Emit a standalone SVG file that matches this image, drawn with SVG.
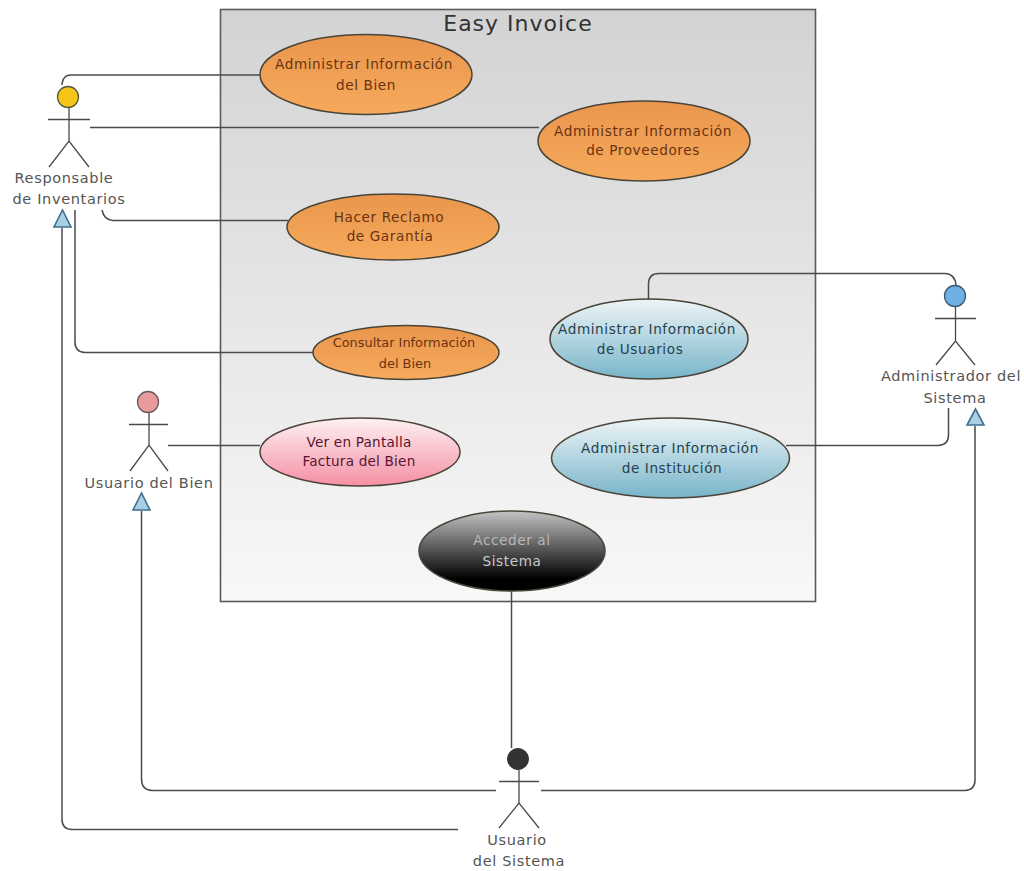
<svg xmlns="http://www.w3.org/2000/svg" width="1024" height="871" viewBox="0 0 1024 871">
<style>
text{font-family:"DejaVu Sans",Verdana,sans-serif;font-size:13.6px;text-anchor:middle;letter-spacing:.6px}
.con{fill:none;stroke:#4a4a50;stroke-width:1.5}
.st{fill:none;stroke:#4a4a4a;stroke-width:1.3}
.uc{stroke:#4a4438;stroke-width:1.5}
.or text{fill:#6a3210}
.bl text{fill:#24404e}
.pk text{fill:#5a1430}
.ak text{fill:#555;font-size:14.5px;letter-spacing:.65px}
.tri{fill:#a9cfe4;stroke:#3f6f8c;stroke-width:1.6}
</style>
<defs>
<linearGradient id="bg" x1="0" y1="0" x2="0" y2="1"><stop offset="0" stop-color="#d3d3d3"/><stop offset="1" stop-color="#f8f8f8"/></linearGradient>
<linearGradient id="o" x1="0" y1="0" x2="0" y2="1"><stop offset="0" stop-color="#e9964c"/><stop offset="1" stop-color="#f6aa5c"/></linearGradient>
<linearGradient id="b" x1="0" y1="0" x2="0" y2="1"><stop offset="0" stop-color="#eef5f7"/><stop offset="1" stop-color="#77b4c9"/></linearGradient>
<linearGradient id="p" x1="0" y1="0" x2="0" y2="1"><stop offset="0" stop-color="#fdf1f3"/><stop offset="1" stop-color="#f58fa3"/></linearGradient>
<linearGradient id="k" x1="0" y1="0" x2="0" y2="1"><stop offset="0" stop-color="#c4c4c4"/><stop offset=".85" stop-color="#000"/><stop offset="1" stop-color="#000"/></linearGradient>
</defs>
<rect width="1024" height="871" fill="#fff"/>
<g id="frame">
<rect x="220.500" y="9.500" width="595" height="592" fill="url(#bg)" stroke="#5a5a5a" stroke-width="1.600"/>
<text x="518" y="31" style="font-size:22px;letter-spacing:1px" fill="#333">Easy Invoice</text>
</g>
<g id="uc1" class="or"><ellipse class="uc" cx="366" cy="74.500" rx="106" ry="40" fill="url(#o)"/><text x="364" y="69">Administrar Información</text><text x="366" y="90">del Bien</text></g>
<g id="uc2" class="or"><ellipse class="uc" cx="644" cy="141" rx="106" ry="40" fill="url(#o)"/><text x="643" y="136">Administrar Información</text><text x="643" y="155">de Proveedores</text></g>
<g id="uc3" class="or"><ellipse class="uc" cx="393" cy="227" rx="106" ry="33" fill="url(#o)"/><text x="389" y="222">Hacer Reclamo</text><text x="390" y="241">de Garantía</text></g>
<g id="uc4" class="or"><ellipse class="uc" cx="406" cy="352.500" rx="93" ry="27" fill="url(#o)"/><text x="404" y="347" style="letter-spacing:0;font-size:12.9px">Consultar Información</text><text x="405" y="368" style="letter-spacing:0;font-size:12.9px">del Bien</text></g>
<g id="uc5" class="bl"><ellipse class="uc" cx="649" cy="339" rx="99" ry="40" fill="url(#b)"/><text x="647" y="334">Administrar Información</text><text x="640" y="354">de Usuarios</text></g>
<g id="uc6" class="bl"><ellipse class="uc" cx="670.500" cy="458" rx="119" ry="40" fill="url(#b)"/><text x="670" y="453">Administrar Información</text><text x="672" y="473">de Institución</text></g>
<g id="uc7" class="pk"><ellipse class="uc" cx="360" cy="452" rx="100" ry="34" fill="url(#p)"/><text x="359" y="447" style="letter-spacing:.2px">Ver en Pantalla</text><text x="359" y="466" style="letter-spacing:.2px">Factura del Bien</text></g>
<g id="uc8"><ellipse class="uc" cx="512" cy="551" rx="93" ry="40" fill="url(#k)"/><text x="512" y="545" fill="#b8b8b8">Acceder al</text><text x="512" y="566" fill="#c8c8c8">Sistema</text></g>
<g id="connectors">
<path class="con" d="M62 85V84Q63 75 71 75H260"/>
<path class="con" d="M90 127.500H539"/>
<path class="con" d="M102 210Q104 220 113 220.500H288"/>
<path class="con" d="M75 210V342Q75 352 85 352.500H313"/>
<path class="con" d="M168 445.500H260"/>
<path class="con" d="M648.500 300V284Q648.500 273.500 659 273.500H945Q955 274 956 285"/>
<path class="con" d="M786 445.500H938Q948.500 445 948.500 435V408"/>
<path class="con" d="M511.500 590V748"/>
<path class="con" d="M458 829.500H72Q62 829.500 62 819V228"/>
<path class="con" d="M496 790.500H152Q141.500 790 141.500 779V511"/>
<path class="con" d="M541 790.500H965Q975 790 975 780V426"/>
<polygon class="tri" points="62.500,210 54,227 71,227"/>
<polygon class="tri" points="141.500,493 133,510 150,510"/>
<polygon class="tri" points="975.500,409 967,425 984,425"/>
</g>
<g id="a1" class="ak"><circle cx="68" cy="97" r="10.500" fill="#f5c518" stroke="#5a5a40" stroke-width="1.300"/><path class="st" d="M48 119.500H90M69 108V141M49 167L69 141L89 167"/><text x="64" y="183">Responsable</text><text x="69" y="204">de Inventarios</text></g>
<g id="a2" class="ak"><circle cx="955" cy="296" r="10.500" fill="#6db0e4" stroke="#3f5a70" stroke-width="1.300"/><path class="st" d="M935 318.500H976M955.500 307V341M936 365L955.500 341L975 365"/><text x="951" y="381">Administrador del</text><text x="955" y="403">Sistema</text></g>
<g id="a3" class="ak"><circle cx="148" cy="402" r="10.500" fill="#e99a9c" stroke="#6a5a5a" stroke-width="1.300"/><path class="st" d="M129 424.500H168M149 413V445M130 471L149 445L168 471"/><text x="149" y="488">Usuario del Bien</text></g>
<g id="a4" class="ak"><circle cx="518" cy="759" r="10.500" fill="#333" stroke="#333"/><path class="st" d="M499 781.500H539M519 770V803M499 828L519 803L539 828"/><text x="517" y="845">Usuario</text><text x="519" y="866">del Sistema</text></g>
</svg>
